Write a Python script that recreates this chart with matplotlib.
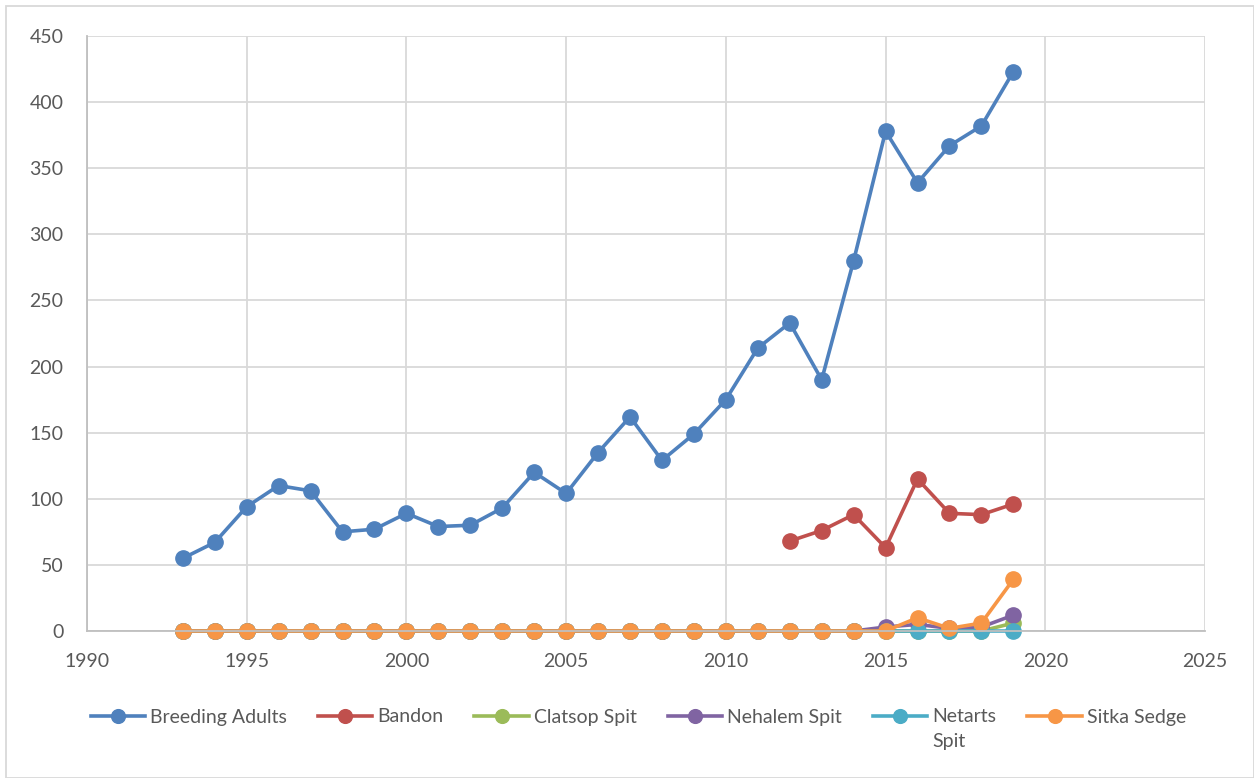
import matplotlib.pyplot as plt
import numpy as np

plt.rcParams['font.family'] = ['Lato', 'DejaVu Sans']

# dados
anos = list(range(1993, 2020))
breeding = [55, 67, 94, 110, 106, 75, 77, 89, 79, 80, 93, 120, 104, 135, 162,
            129, 149, 175, 214, 233, 190, 280, 378, 339, 367, 382, 423]
anos_bandon = list(range(2012, 2020))
bandon = [68, 76, 88, 63, 115, 89, 88, 96]
# series pequenas (zero ate 2014)
clatsop = [0] * 26 + [6]
nehalem = [0] * 22 + [3, 5, 2, 3, 12]
netarts = [0] * 27
sitka = [0] * 22 + [0, 10, 2, 6, 39]

nomes = ['Breeding Adults', 'Bandon', 'Clatsop Spit', 'Nehalem Spit', 'Netarts', 'Sitka Sedge']
cores = ['#4F81BD', '#C0504D', '#9BBB59', '#8064A2', '#4BACC6', '#F79646']

fig = plt.figure(figsize=(12.54, 7.78), dpi=100)
ax = fig.add_axes([87 / 1254, 1 - 631 / 778, (1205 - 87) / 1254, (631 - 36) / 778])

estilo = dict(lw=2.6, marker='o', markersize=11, clip_on=False)
ax.plot(anos, breeding, color=cores[0], label=nomes[0], **estilo)
ax.plot(anos_bandon, bandon, color=cores[1], label=nomes[1], **estilo)
ax.plot(anos, clatsop, color=cores[2], label=nomes[2], **estilo)
ax.plot(anos, nehalem, color=cores[3], label=nomes[3], **estilo)
ax.plot(anos, netarts, color=cores[4], label=nomes[4], **estilo)
ax.plot(anos, sitka, color=cores[5], label=nomes[5], **estilo)

ax.set_xlim(1990, 2025)
ax.set_ylim(0, 450)
ax.set_xticks(np.arange(1990, 2026, 5))
ax.set_yticks(np.arange(0, 451, 50))
ax.grid(True, color='#D9D9D9', lw=1.3)
ax.set_axisbelow(True)
for s in ['top', 'right']:
    ax.spines[s].set_visible(False)
for s in ['left', 'bottom']:
    ax.spines[s].set_color('#BFBFBF')
    ax.spines[s].set_linewidth(1.3)
ax.tick_params(length=0, labelsize=14, labelcolor='#595959')
ax.tick_params(axis='x', pad=16)
ax.tick_params(axis='y', pad=17)

leg = fig.legend(loc='center', bbox_to_anchor=(0.509, 1 - 717 / 778), ncol=6,
                 frameon=False, fontsize=14, handlelength=2.8, columnspacing=1.6,
                 handletextpad=0.25, borderaxespad=0, markerscale=0.9)
for t in leg.get_texts():
    t.set_color('#595959')

# segunda linha do rotulo "Netarts Spit"
fig.canvas.draw()
bb = leg.get_texts()[4].get_window_extent()
fig.text(bb.x0 / 1254, (bb.y0 - 25) / 778, 'Spit', fontsize=14, color='#595959', va='bottom')

# borda do grafico
fig.patches.append(plt.Rectangle((6 / 1254, 0), 1 - 6 / 1254, 1 - 6 / 778, transform=fig.transFigure,
                                 fill=False, edgecolor='#D9D9D9', lw=1.3))

fig.savefig('out.png', dpi=100)
